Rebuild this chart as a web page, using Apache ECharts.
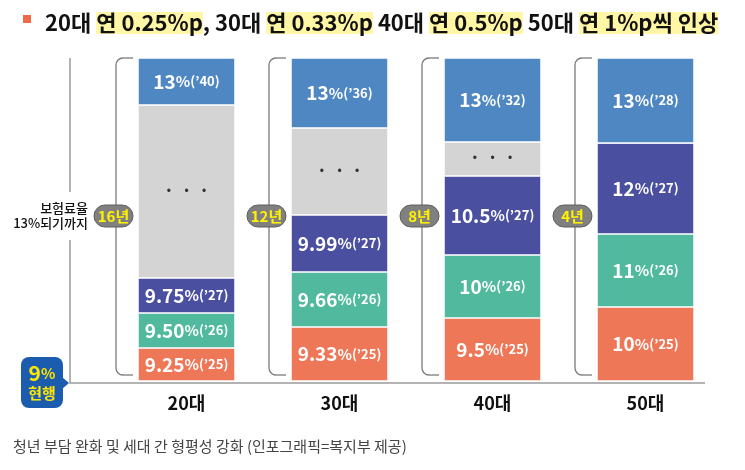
<!DOCTYPE html>
<html>
<head>
<meta charset="utf-8">
<script src="https://cdn.jsdelivr.net/npm/echarts@6/dist/echarts.min.js"></script>
<style>
  html, body { margin: 0; padding: 0; background: #fff; }
  #main { width: 745px; height: 470px; }
</style>
</head>
<body>
<div id="main"></div>
<script>
var FONT = '"Noto Sans CJK KR", "Noto Sans", sans-serif';

// 연령대
var categories = ['20대', '30대', '40대', '50대'];
// 각 칸의 보험료율(%)과 연도
var rate25 = ['9.25', '9.33', '9.5', '10'];
var rate26 = ['9.50', '9.66', '10', '11'];
var rate27 = ['9.75', '9.99', '10.5', '12'];
var rateTop = ['13', '13', '13', '13'];
var yearTop = ['40', '36', '32', '28'];
// 13%까지 걸리는 기간
var yearsTo13 = ['16년', '12년', '8년', '4년'];
// 그림에서 읽은 칸 높이 (막대 전체 = 323)
var h25 = [33, 54, 63, 74];
var h26 = [35, 55, 63, 73];
var h27 = [35, 57, 79, 91];
var hGap = [173, 87, 34, 0];
var hTop = [47, 70, 84, 85];
var barTotal = 323;

var myChart = echarts.init(document.getElementById('main'));

var rich = {
    n: { fontFamily: FONT, fontSize: 19, fontWeight: 'bold', color: '#fff' },
    p: { fontFamily: FONT, fontSize: 15, fontWeight: 'bold', color: '#fff' },
    y: { fontFamily: FONT, fontSize: 13, fontWeight: 'bold', color: '#fff' }
};

function rateLabel(rates, year) {
    return function (p) {
        var yr = typeof year === 'string' ? year : year[p.dataIndex];
        return '{n|' + rates[p.dataIndex] + '}{p|%}{y|(\u2019' + yr + ')}';
    };
}

function seg(name, data, color, fmt) {
    return {
        name: name,
        type: 'bar',
        stack: 'rate',
        barWidth: 97,
        data: data,
        itemStyle: { color: color, borderColor: 'rgba(255,255,255,0.55)', borderWidth: 1 },
        label: { show: true, position: 'inside', formatter: fmt, rich: rich },
        emphasis: { disabled: true }
    };
}

var option = {
    animation: false,
    title: {
        left: 40,
        top: 4,
        text: '{n|20대 }{h|연 0.25%p}{n|, 30대 }{h|연 0.33%p}{n| 40대 }{h|연 0.5%p}{n| 50대 }{h|연 1%p씩 인상}',
        textStyle: {
            rich: {
                n: { fontFamily: FONT, fontSize: 22, fontWeight: 'bold', color: '#111', lineHeight: 28 },
                h: { fontFamily: FONT, fontSize: 22, fontWeight: 'bold', color: '#111', lineHeight: 28,
                     backgroundColor: '#fff6a6' }
            }
        }
    },
    grid: { left: 110, right: 23, top: 58, bottom: 89 },
    xAxis: {
        type: 'category',
        data: categories,
        axisLine: { show: false },
        axisTick: { show: false },
        axisLabel: { margin: 13, fontFamily: FONT, fontSize: 18, fontWeight: 'bold', color: '#111' }
    },
    yAxis: { type: 'value', min: 0, max: barTotal, show: false },
    series: [
        seg("'25", h25, '#ee7757', rateLabel(rate25, '25')),
        seg("'26", h26, '#50b99e', rateLabel(rate26, '26')),
        seg("'27", h27, '#4a4f9f', rateLabel(rate27, '27')),
        seg('gap', hGap, '#d4d4d4', function (p) { return p.value ? '\u2022    \u2022    \u2022' : ''; }),
        seg('13%', hTop, '#4f87c2', rateLabel(rateTop, yearTop))
    ]
};
option.series[3].label.color = '#333';
option.series[3].label.fontSize = 12;
option.series[3].label.rich = {};

myChart.setOption(option);

// 괄호, 기간 배지, 축선 등 장식
var yTop = myChart.convertToPixel({ yAxisIndex: 0 }, barTotal);
var yBase = myChart.convertToPixel({ yAxisIndex: 0 }, 0);
var graphic = [];
var lineStyle = { stroke: '#7a7a7a', lineWidth: 1.3, fill: null };

graphic.push({ type: 'rect', shape: { x: 23, y: 15, width: 8, height: 8 }, style: { fill: '#ee6a48' } });

// L자 축선
graphic.push({ type: 'polyline', shape: { points: [[70, yTop], [70, yBase + 2], [705, yBase + 2]] },
    style: { stroke: '#9a9a9a', lineWidth: 1.5, fill: null } });
graphic.push({ type: 'text', x: 88, y: 216, z: 10,
    style: { text: '보험료율\n13%되기까지', align: 'right', verticalAlign: 'middle', fontFamily: FONT,
             fontSize: 13, fontWeight: 500, lineHeight: 15, fill: '#111', backgroundColor: '#fff',
             padding: [9, 0, 9, 2] } });

categories.forEach(function (c, i) {
    var cx = myChart.convertToPixel({ xAxisIndex: 0 }, c);
    var bl = cx - 48.5;
    var bx = bl - 22;
    var yb = yBase - 6;
    var r = 7;
    graphic.push({ type: 'line', shape: { x1: bx + r, y1: yTop, x2: bl - 5, y2: yTop }, style: lineStyle });
    graphic.push({ type: 'line', shape: { x1: bx, y1: yTop + r, x2: bx, y2: yb - r }, style: lineStyle });
    graphic.push({ type: 'line', shape: { x1: bx + r, y1: yb, x2: bl - 5, y2: yb }, style: lineStyle });
    graphic.push({ type: 'arc', shape: { cx: bx + r, cy: yTop + r, r: r, startAngle: Math.PI, endAngle: Math.PI * 1.5 },
        style: lineStyle });
    graphic.push({ type: 'arc', shape: { cx: bx + r, cy: yb - r, r: r, startAngle: Math.PI * 0.5, endAngle: Math.PI },
        style: lineStyle });
    graphic.push({ type: 'rect', z: 5, shape: { x: bx - 22, y: 205, width: 39, height: 22, r: 11 },
        style: { fill: '#808080', stroke: '#5f5f5f', lineWidth: 1 } });
    graphic.push({ type: 'text', z: 6, x: bx - 2.5, y: 216,
        style: { text: yearsTo13[i], align: 'center', verticalAlign: 'middle', fontFamily: FONT,
                 fontSize: 15, fontWeight: 'bold', fill: '#fff200' } });
});

// 9% 현행 말풍선
graphic.push({ type: 'rect', shape: { x: 21, y: 357, width: 42, height: 51, r: 8 }, style: { fill: '#1b5cae' } });
graphic.push({ type: 'polygon', shape: { points: [[62, 377], [69, 383], [62, 389]] }, style: { fill: '#1b5cae' } });
graphic.push({ type: 'text', x: 42, y: 373,
    style: { text: '{a|9}{b|%}', align: 'center', verticalAlign: 'middle',
             rich: { a: { fontFamily: FONT, fontSize: 21, fontWeight: 'bold', fill: '#ffe600' },
                     b: { fontFamily: FONT, fontSize: 15, fontWeight: 'bold', fill: '#ffe600' } } } });
graphic.push({ type: 'text', x: 42, y: 393,
    style: { text: '현행', align: 'center', verticalAlign: 'middle', fontFamily: FONT,
             fontSize: 15, fontWeight: 'bold', fill: '#ffe600' } });

// 출처
graphic.push({ type: 'text', x: 13, y: 446,
    style: { text: '청년 부담 완화 및 세대 간 형평성 강화 (인포그래픽=복지부 제공)', verticalAlign: 'middle',
             fontFamily: FONT, fontSize: 15, fill: '#444' } });

myChart.setOption({ graphic: graphic });
</script>
</body>
</html>
